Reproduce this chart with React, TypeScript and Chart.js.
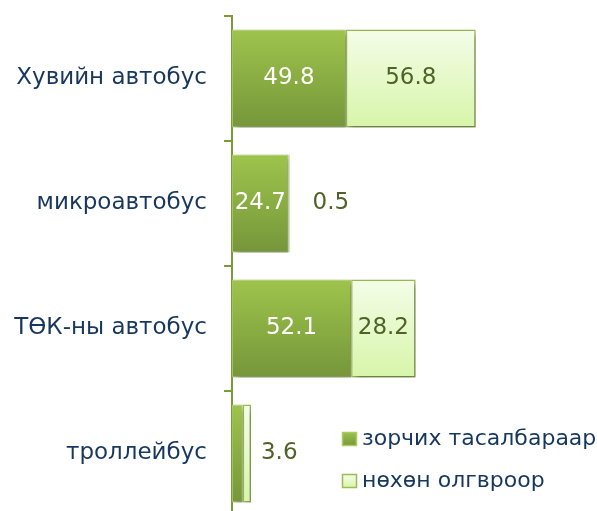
import React, { useEffect, useRef } from "react";
import { Chart, registerables } from "chart.js";

Chart.register(...registerables);

const categories = ["Хувийн автобус", "микроавтобус", "ТӨК-ны автобус", "троллейбус"];
const ticketValues = [49.8, 24.7, 52.1, 4.7];
const compensationValues = [56.8, 0.5, 28.2, 3.6];
const seriesNames = ["зорчих тасалбараар", "нөхөн олгвроор"];

const FONT = "'DejaVu Sans', Verdana, sans-serif";
const AXIS_GREEN = "#7A9A36";
const TEXT_BLUE = "#17375E";
const LABEL_OLIVE = "#4F6228";
const CAT_PCT = 0.785;
const outsideGap = [0, 23, 0, 10];

function barGradient(ctx: any, top: string, bottom: string, fallback: string) {
  const chart = ctx.chart;
  const y = chart.scales && chart.scales.y;
  if (!y || !chart.chartArea || typeof ctx.dataIndex !== "number") return fallback;
  const c = y.getPixelForValue(ctx.dataIndex);
  const band = (y.bottom - y.top) / categories.length;
  const half = (band * CAT_PCT) / 2;
  const g = chart.ctx.createLinearGradient(0, c - half, 0, c + half);
  g.addColorStop(0, top);
  g.addColorStop(1, bottom);
  return g;
}

const shadowPlugin = {
  id: "barShadow",
  beforeDatasetDraw(chart: any) {
    const ctx = chart.ctx;
    ctx.save();
    ctx.shadowColor = "rgba(0,0,0,0.35)";
    ctx.shadowBlur = 6;
    ctx.shadowOffsetX = 3;
    ctx.shadowOffsetY = 4;
  },
  afterDatasetDraw(chart: any) {
    chart.ctx.restore();
  },
};

const labelPlugin = {
  id: "valueLabels",
  afterDatasetsDraw(chart: any) {
    const ctx = chart.ctx;
    ctx.save();
    ctx.font = `23px ${FONT}`;
    ctx.textBaseline = "middle";
    chart.data.datasets.forEach((ds: any, di: number) => {
      const meta = chart.getDatasetMeta(di);
      meta.data.forEach((bar: any, i: number) => {
        const v = ds.data[i];
        const text = v.toFixed(1);
        const w = ctx.measureText(text).width;
        const left = Math.min(bar.x, bar.base);
        const right = Math.max(bar.x, bar.base);
        const fits = right - left >= w + 2;
        if (fits) {
          ctx.fillStyle = di === 0 ? "#FFFFFF" : LABEL_OLIVE;
          ctx.textAlign = "center";
          ctx.fillText(text, (left + right) / 2, bar.y);
        } else if (di === 1) {
          ctx.fillStyle = LABEL_OLIVE;
          ctx.textAlign = "left";
          ctx.fillText(text, right + outsideGap[i], bar.y);
        }
      });
    });
    ctx.restore();
  },
};

const legendPlugin = {
  id: "sideLegend",
  afterDraw(chart: any) {
    const ctx = chart.ctx;
    const area = chart.chartArea;
    const x = area.left + 110;
    const ys = [439, 481];
    ctx.save();
    ctx.font = `22px ${FONT}`;
    ctx.textBaseline = "middle";
    ctx.textAlign = "left";
    chart.data.datasets.forEach((ds: any, i: number) => {
      const y = ys[i];
      const g = ctx.createLinearGradient(0, y - 7, 0, y + 7);
      if (i === 0) {
        g.addColorStop(0, "#9DC34B");
        g.addColorStop(1, "#76963A");
      } else {
        g.addColorStop(0, "#F4FDE8");
        g.addColorStop(1, "#D7F5A9");
      }
      ctx.fillStyle = g;
      ctx.fillRect(x, y - 7, 15, 14);
      ctx.strokeStyle = i === 0 ? "#A9CB64" : "#9BBB59";
      ctx.lineWidth = 1.5;
      ctx.strokeRect(x + 0.5, y - 6.5, 14, 13);
      ctx.fillStyle = TEXT_BLUE;
      ctx.fillText(ds.label, x + 20, y);
    });
    ctx.restore();
  },
};

export default function App() {
  const ref = useRef<HTMLCanvasElement | null>(null);
  useEffect(() => {
    if (!ref.current) return;
    const chart = new Chart(ref.current, {
      type: "bar",
      data: {
        labels: categories,
        datasets: [
          {
            label: seriesNames[0],
            data: ticketValues,
            backgroundColor: (c: any) => barGradient(c, "#9EC44C", "#76963A", "#8AAE43"),
            borderColor: "#A9CB64",
            borderWidth: 1,
            borderSkipped: false,
            categoryPercentage: CAT_PCT,
            barPercentage: 1,
          },
          {
            label: seriesNames[1],
            data: compensationValues,
            backgroundColor: (c: any) => barGradient(c, "#F4FDE8", "#D7F5A9", "#E6F9C8"),
            borderColor: "#9BBB59",
            borderWidth: 1.5,
            borderSkipped: false,
            categoryPercentage: CAT_PCT,
            barPercentage: 1,
          },
        ],
      },
      options: {
        indexAxis: "y",
        responsive: false,
        animation: false,
        devicePixelRatio: 1,
        layout: { padding: { top: 16, right: 22, bottom: 5, left: 0 } },
        plugins: { legend: { display: false }, tooltip: { enabled: false } },
        scales: {
          x: { stacked: true, min: 0, max: 150, display: false },
          y: {
            stacked: true,
            afterFit: (s: any) => {
              s.width = 232;
              s.paddingTop = 0;
              s.paddingBottom = 0;
            },
            border: { display: true, color: AXIS_GREEN, width: 2 },
            grid: {
              display: true,
              drawOnChartArea: false,
              drawTicks: true,
              tickLength: 8,
              color: AXIS_GREEN,
              lineWidth: 2,
              offset: true,
            },
            ticks: {
              color: TEXT_BLUE,
              font: { family: FONT, size: 23 },
              padding: 17,
            },
          },
        },
      },
      plugins: [shadowPlugin, labelPlugin, legendPlugin],
    } as any);
    return () => chart.destroy();
  }, []);
  return (
    <div style={{ position: "fixed", left: 0, top: 0, width: 597, height: 511, overflow: "hidden", background: "#fff" }}>
      <canvas ref={ref} width={597} height={521} style={{ display: "block", width: 597, height: 521 }} />
    </div>
  );
}
